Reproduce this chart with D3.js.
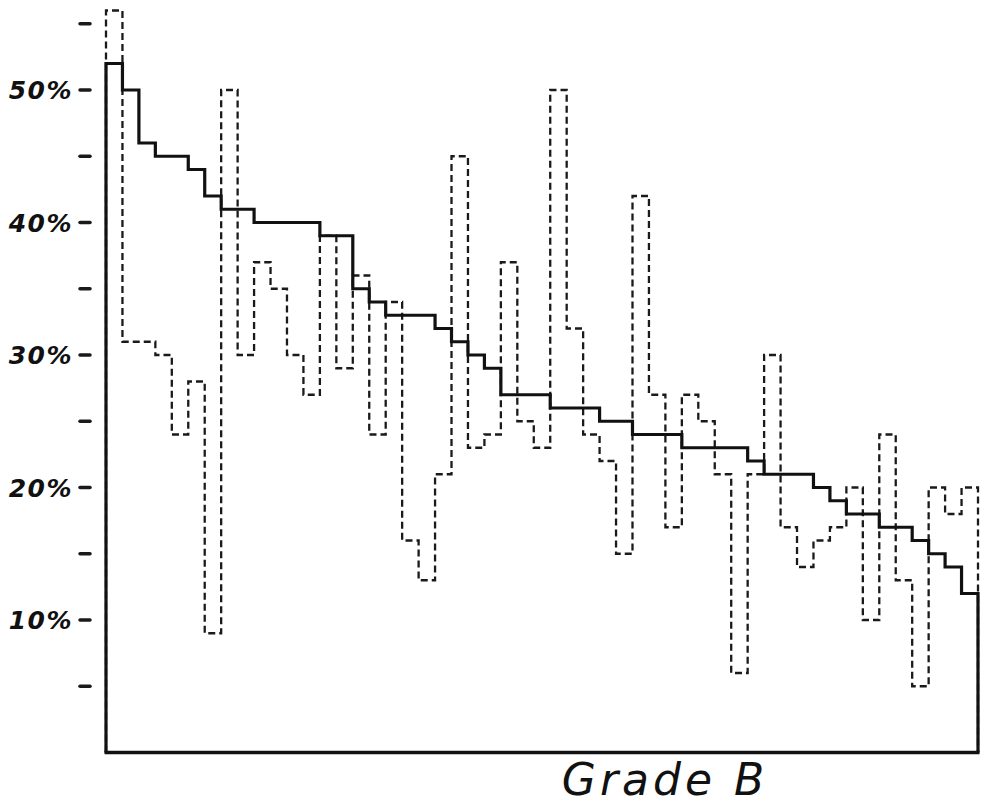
<!DOCTYPE html>
<html>
<head>
<meta charset="utf-8">
<script src="https://cdn.jsdelivr.net/npm/d3@7"></script>
<style>
  html, body { margin: 0; padding: 0; background: #fff; }
  svg { display: block; }
</style>
</head>
<body>
<svg id="chart" width="984" height="807"></svg>
<script>
// Solid step series (per column, %)
const averageValues = [52, 50, 46, 45, 45, 44, 42, 41, 41, 40, 40, 40, 40, 39, 39, 35, 34, 33, 33, 33,
  32, 31, 30, 29, 27, 27, 27, 26, 26, 26, 25, 25, 24, 24, 24, 23, 23, 23, 23, 22,
  21, 21, 21, 20, 19, 18, 18, 17, 17, 16, 15, 14, 12];
// Dashed step series (per column, %)
const individualValues = [56, 31, 31, 30, 24, 28, 9, 50, 30, 37, 35, 30, 27, 39, 29, 36, 24, 34, 16, 13,
  21, 45, 23, 24, 37, 25, 23, 50, 32, 24, 22, 15, 42, 27, 17, 27, 25, 21, 6, 21,
  30, 17, 14, 16, 17, 20, 10, 24, 13, 5, 20, 18, 20];
const tickValues = [5, 10, 15, 20, 25, 30, 35, 40, 45, 50, 55];
const tickLabels = ["10%", "20%", "30%", "40%", "50%"];
const labelValues = [10, 20, 30, 40, 50];
const title = "Grade B";

const svg = d3.select("#chart");
const n = averageValues.length;

const x = d3.scaleLinear().domain([0, n]).range([106, 978]);
const y = d3.scaleLinear().domain([0, 50]).range([752.5, 90]);

function stepPoints(vals) {
  const pts = [[0, 0]];
  vals.forEach((v, i) => pts.push([i, v]));
  pts.push([n, vals[vals.length - 1]]);
  pts.push([n, 0]);
  return pts;
}

const line = d3.line()
  .x(d => x(d[0]))
  .y(d => y(d[1]))
  .curve(d3.curveStepAfter);

// dashed series
svg.append("path")
  .attr("d", line(stepPoints(individualValues)))
  .attr("fill", "none")
  .attr("stroke", "#1a1a1a")
  .attr("stroke-width", 2.3)
  .attr("stroke-dasharray", "7,4");

// solid series
svg.append("path")
  .attr("d", line(stepPoints(averageValues)))
  .attr("fill", "none")
  .attr("stroke", "#111")
  .attr("stroke-width", 3.2)
  .attr("stroke-linejoin", "miter");

// bottom axis line
svg.append("line")
  .attr("x1", x(0) - 1.5).attr("x2", x(n) + 1.5)
  .attr("y1", y(0)).attr("y2", y(0))
  .attr("stroke", "#111")
  .attr("stroke-width", 3.5);

// y ticks (detached dashes)
svg.append("g").selectAll("line")
  .data(tickValues)
  .join("line")
  .attr("x1", 80).attr("x2", 90)
  .attr("y1", d => y(d)).attr("y2", d => y(d))
  .attr("stroke", "#1a1a1a")
  .attr("stroke-width", 3.5)
  .attr("stroke-linecap", "round");

// y labels
svg.append("g").selectAll("text")
  .data(labelValues)
  .join("text")
  .attr("x", 73)
  .attr("y", d => y(d) + 9)
  .attr("text-anchor", "end")
  .attr("font-family", "DejaVu Sans, sans-serif")
  .attr("font-style", "italic")
  .attr("font-weight", "bold")
  .attr("font-size", 25)
  .attr("letter-spacing", 1.5)
  .attr("fill", "#111")
  .text((d, i) => tickLabels[i]);

// title
svg.append("text")
  .attr("x", 665)
  .attr("y", 795)
  .attr("text-anchor", "middle")
  .attr("font-family", "DejaVu Sans, sans-serif")
  .attr("font-style", "italic")
  .attr("font-size", 44)
  .attr("letter-spacing", 4)
  .attr("fill", "#111")
  .text(title);
</script>
</body>
</html>
